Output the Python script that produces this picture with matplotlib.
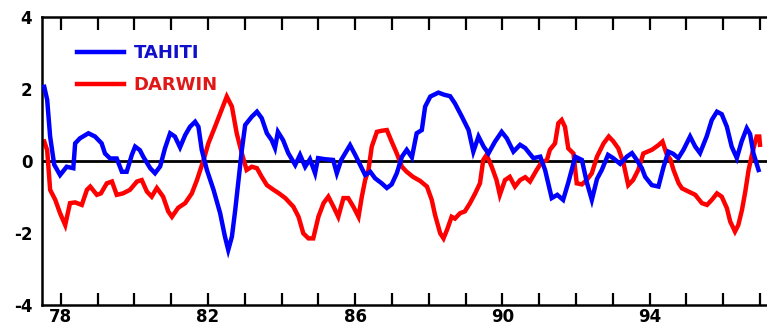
import matplotlib.pyplot as plt
import numpy as np

# values (year, index)
tahiti_year = [77.55, 77.63, 77.71, 77.82, 77.98, 78.16, 78.34, 78.39, 78.52, 78.75,
               78.93, 79.11, 79.20, 79.34, 79.52, 79.66, 79.79, 79.93, 80.02, 80.15,
               80.24, 80.43, 80.56, 80.70, 80.83, 80.97, 81.10, 81.24, 81.38, 81.51,
               81.65, 81.74, 81.83, 81.97, 82.15, 82.33, 82.46, 82.55, 82.65, 82.74,
               82.83, 82.92, 83.01, 83.19, 83.33, 83.46, 83.60, 83.73, 83.82, 83.90,
               84.04, 84.18, 84.37, 84.50, 84.64, 84.77, 84.91, 84.99, 85.18, 85.40,
               85.50, 85.62, 85.86, 86.00, 86.13, 86.27, 86.41, 86.54, 86.72, 86.86,
               86.99, 87.13, 87.27, 87.40, 87.54, 87.67, 87.81, 87.90, 88.04, 88.26,
               88.42, 88.58, 88.71, 88.90, 89.08, 89.21, 89.35, 89.49, 89.62, 89.80,
               89.98, 90.12, 90.30, 90.48, 90.62, 90.84, 91.03, 91.16, 91.34, 91.49,
               91.65, 91.79, 91.98, 92.16, 92.29, 92.43, 92.57, 92.70, 92.87, 93.01,
               93.20, 93.38, 93.52, 93.65, 93.79, 93.88, 94.06, 94.24, 94.38, 94.51,
               94.64, 94.78, 94.92, 95.10, 95.24, 95.37, 95.55, 95.69, 95.83, 95.96,
               96.10, 96.23, 96.37, 96.50, 96.64, 96.73, 96.82, 96.96]
tahiti = [2.06, 1.70, 0.68, -0.10, -0.39, -0.16, -0.20, 0.49, 0.63, 0.77,
          0.68, 0.49, 0.21, 0.07, 0.07, -0.30, -0.30, 0.17, 0.40, 0.30,
          0.12, -0.20, -0.34, -0.15, 0.35, 0.77, 0.68, 0.38, 0.72, 0.95,
          1.09, 0.95, 0.31, -0.25, -0.80, -1.45, -2.10, -2.47, -2.10, -1.36,
          -0.53, 0.31, 1.00, 1.23, 1.37, 1.19, 0.77, 0.58, 0.36, 0.81,
          0.58, 0.22, -0.11, 0.17, -0.16, 0.05, -0.34, 0.08, 0.05, 0.03,
          -0.34, 0.03, 0.44, 0.17, -0.10, -0.39, -0.30, -0.48, -0.62, -0.75,
          -0.65, -0.34, 0.12, 0.31, 0.10, 0.77, 0.86, 1.51, 1.79, 1.90,
          1.84, 1.80, 1.60, 1.23, 0.86, 0.26, 0.68, 0.40, 0.21, 0.54,
          0.81, 0.63, 0.26, 0.45, 0.36, 0.08, 0.12, -0.25, -1.03, -0.94,
          -1.08, -0.60, 0.12, 0.03, -0.58, -1.08, -0.50, -0.25, 0.17, 0.08,
          -0.08, 0.12, 0.22, 0.03, -0.20, -0.44, -0.67, -0.71, -0.16, 0.26,
          0.20, 0.08, 0.31, 0.68, 0.40, 0.22, 0.68, 1.14, 1.37, 1.30,
          0.95, 0.40, 0.08, 0.54, 0.91, 0.75, 0.22, -0.25]

darwin_year = [77.55, 77.63, 77.71, 77.85, 77.98, 78.12, 78.25, 78.39, 78.57, 78.71,
               78.80, 78.98, 79.09, 79.25, 79.39, 79.52, 79.69, 79.88, 80.07, 80.20,
               80.34, 80.47, 80.61, 80.78, 80.92, 81.02, 81.19, 81.38, 81.56, 81.70,
               81.88, 82.01, 82.19, 82.33, 82.51, 82.65, 82.78, 82.92, 83.05, 83.19,
               83.33, 83.46, 83.60, 83.78, 83.93, 84.10, 84.32, 84.46, 84.59, 84.73,
               84.86, 85.00, 85.14, 85.27, 85.41, 85.54, 85.68, 85.81, 85.95, 86.09,
               86.18, 86.27, 86.36, 86.45, 86.59, 86.72, 86.86, 86.99, 87.13, 87.27,
               87.40, 87.57, 87.76, 87.95, 88.08, 88.17, 88.31, 88.40, 88.50, 88.62,
               88.71, 88.85, 88.98, 89.12, 89.26, 89.39, 89.48, 89.57, 89.71, 89.84,
               89.93, 90.07, 90.20, 90.34, 90.48, 90.62, 90.75, 90.93, 91.05, 91.21,
               91.29, 91.43, 91.52, 91.61, 91.70, 91.79, 91.93, 92.02, 92.16, 92.29,
               92.43, 92.57, 92.75, 92.89, 93.01, 93.15, 93.29, 93.42, 93.55, 93.69,
               93.83, 94.06, 94.24, 94.35, 94.46, 94.57, 94.65, 94.79, 94.88, 95.06,
               95.24, 95.42, 95.56, 95.69, 95.83, 95.96, 96.10, 96.19, 96.32, 96.41,
               96.51, 96.60, 96.69, 96.78, 96.87, 96.91, 96.98, 97.00]
darwin = [0.54, 0.30, -0.80, -1.08, -1.45, -1.78, -1.17, -1.15, -1.22, -0.80,
          -0.71, -0.94, -0.90, -0.62, -0.57, -0.94, -0.90, -0.80, -0.57, -0.53,
          -0.85, -0.99, -0.75, -0.99, -1.40, -1.55, -1.30, -1.17, -0.90, -0.53,
          0.03, 0.49, 0.95, 1.32, 1.79, 1.51, 0.77, 0.21, -0.25, -0.16,
          -0.20, -0.44, -0.67, -0.80, -0.90, -1.03, -1.27, -1.55, -2.01, -2.15,
          -2.15, -1.55, -1.17, -0.99, -1.27, -1.55, -1.03, -1.03, -1.27, -1.55,
          -0.99, -0.53, -0.25, 0.40, 0.81, 0.84, 0.86, 0.54, 0.21, -0.16,
          -0.30, -0.44, -0.55, -0.71, -1.08, -1.50, -2.01, -2.15, -1.90, -1.55,
          -1.60, -1.45, -1.40, -1.17, -0.90, -0.62, 0.03, 0.17, -0.16, -0.53,
          -0.94, -0.53, -0.44, -0.71, -0.53, -0.45, -0.57, -0.25, -0.06, 0.03,
          0.31, 0.49, 1.05, 1.14, 0.95, 0.35, 0.21, -0.62, -0.65, -0.53,
          -0.34, 0.12, 0.49, 0.68, 0.55, 0.35, -0.06, -0.67, -0.53, -0.25,
          0.21, 0.31, 0.44, 0.54, 0.20, 0.03, -0.25, -0.62, -0.76, -0.85,
          -0.94, -1.17, -1.22, -1.08, -0.90, -0.99, -1.31, -1.68, -1.96, -1.78,
          -1.36, -0.85, -0.25, 0.17, 0.54, 0.68, 0.68, 0.45]

years = list(range(78, 98))
label_years = [78, 82, 86, 90, 94]
yticks = [-4, -2, 0, 2, 4]

fig = plt.figure(figsize=(7.67, 3.27), dpi=100)
ax = fig.add_axes([0.0548, 0.0673, 0.9452, 0.8807])

ax.axhline(0, color='black', lw=2, zorder=1)
ax.plot(tahiti_year, tahiti, color='#0000ff', lw=3.2, label='TAHITI', zorder=3,
        solid_joinstyle='miter')
ax.plot(darwin_year, darwin, color='#ff0000', lw=3.2, label='DARWIN', zorder=2,
        solid_joinstyle='miter')

ax.set_xlim(77.49, 97.19)
ax.set_ylim(-4, 4)

ax.set_xticks(years)
ax.set_xticklabels([str(y) if y in label_years else '' for y in years],
                   fontweight='bold', fontsize=12)
ax.set_yticks(yticks)
ax.set_yticklabels([str(v) for v in yticks], fontweight='bold', fontsize=12)
ax.tick_params(axis='x', direction='in', length=9, width=1.6, top=True, pad=2)
ax.tick_params(axis='y', length=0, pad=7)

for side in ['left', 'top', 'bottom']:
    ax.spines[side].set_linewidth(1.8)
ax.spines['right'].set_visible(False)

leg = ax.legend(loc='upper left', bbox_to_anchor=(0.048, 0.905), frameon=False,
                handlelength=2.6, handletextpad=0.55, labelspacing=0.78,
                borderpad=0, borderaxespad=0,
                prop={'weight': 'bold', 'size': 13}, labelcolor=['#1010c8', '#e01818'])

fig.savefig('out.png', dpi=100)
